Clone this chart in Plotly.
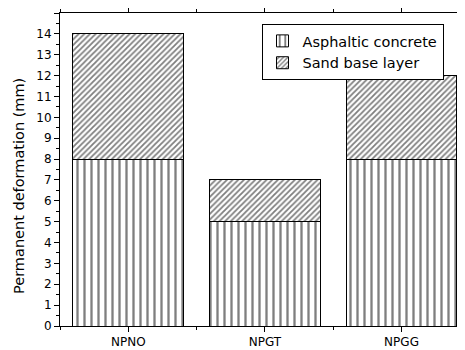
import plotly.graph_objects as go

categories = ["NPNO", "NPGT", "NPGG"]
asphaltic = [8, 5, 8]
sand_base = [6, 2, 4]
x_pos = [0, 1, 2]
y_title = "Permanent deformation (mm)"

fig = go.Figure()
fig.add_trace(go.Bar(
    x=x_pos, y=asphaltic, name="Asphaltic concrete", width=0.81,
    marker=dict(color="white", line=dict(color="black", width=1),
                pattern=dict(shape="|", fgcolor="black", bgcolor="white", size=7, solidity=0.33)),
))
fig.add_trace(go.Bar(
    x=x_pos, y=sand_base, name="Sand base layer", width=0.81,
    marker=dict(color="white", line=dict(color="black", width=1),
                pattern=dict(shape="/", fgcolor="black", bgcolor="white", size=4, solidity=0.45)),
))

fig.update_layout(
    width=465, height=350, barmode="stack",
    margin=dict(l=52, r=10, t=5, b=32),
    plot_bgcolor="white", paper_bgcolor="white",
    font=dict(family="DejaVu Sans", size=12, color="black"),
    legend=dict(x=0.5, y=0.965, xanchor="left", yanchor="top", traceorder="normal",
                bordercolor="black", borderwidth=1, bgcolor="white",
                font=dict(size=14.5), itemwidth=30, tracegroupgap=0),
    showlegend=True,
)
fig.add_annotation(
    text=y_title, xref="paper", yref="paper", x=-0.102, y=0.447,
    textangle=-90, showarrow=False, font=dict(size=14.5),
    xanchor="center", yanchor="middle",
)
fig.update_xaxes(
    range=[-0.5, 2.45], tickvals=x_pos, ticktext=categories, automargin=False,
    showline=True, linecolor="black", linewidth=1, mirror="ticks",
    ticks="outside", ticklen=5, tickcolor="black", showgrid=False, zeroline=False,
    minor=dict(dtick=0.5, tick0=0, ticks="outside", ticklen=3, tickcolor="black", showgrid=False),
    tickfont=dict(size=12),
)
fig.update_yaxes(
    range=[0, 15], dtick=1, tick0=0, automargin=False,
    showline=True, linecolor="black", linewidth=1, mirror="ticks",
    ticks="outside", ticklen=5, tickcolor="black", showgrid=False, zeroline=False,
    minor=dict(dtick=0.5, tick0=0, ticks="outside", ticklen=3, tickcolor="black", showgrid=False),
    tickfont=dict(size=12),
)

fig.write_html("out.html")
